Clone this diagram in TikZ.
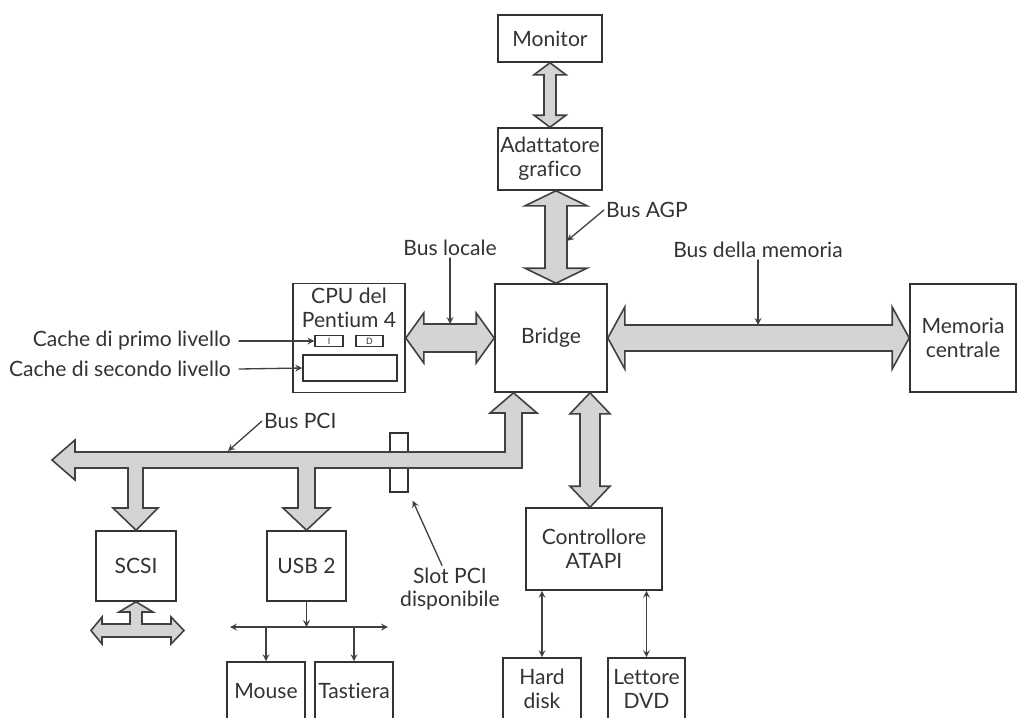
\documentclass[tikz,border=0pt]{standalone}
\usepackage{fontspec}
\setmainfont{Lato}[Ligatures=NoCommon]
\usetikzlibrary{calc,positioning}

\tikzset{
  box/.style 2 args={draw=black!80, line width=0.9pt, minimum width=#1*0.02cm, minimum height=#2*0.02cm, inner sep=0pt, align=center, text=black!80},
  bus/.style={fill=black!17, draw=black!75, line width=0.9pt, line join=miter},
  lbl/.style={text=black!80, align=center, inner sep=1pt},
  ptr/.style={->, draw=black!75, line width=0.75pt},
}
% fat double arrows: (from) (to) shaft-half head-half head-length
\newcommand{\vbus}[5]{\filldraw[bus] (#1) -- ($(#1)+(#4,#5)$) -- ($(#1)+(#3,#5)$) -- ($(#2)+(#3,-#5)$) -- ($(#2)+(#4,-#5)$) -- (#2) -- ($(#2)+(-#4,-#5)$) -- ($(#2)+(-#3,-#5)$) -- ($(#1)+(-#3,#5)$) -- ($(#1)+(-#4,#5)$) -- cycle;}
\newcommand{\hbus}[5]{\filldraw[bus] (#1) -- ($(#1)+(#5,-#4)$) -- ($(#1)+(#5,-#3)$) -- ($(#2)+(-#5,-#3)$) -- ($(#2)+(-#5,-#4)$) -- (#2) -- ($(#2)+(-#5,#4)$) -- ($(#2)+(-#5,#3)$) -- ($(#1)+(#5,#3)$) -- ($(#1)+(#5,#4)$) -- cycle;}

\begin{document}
\begin{tikzpicture}[x=0.02cm, y=-0.02cm, >=stealth, line cap=round, font=\fontsize{12}{13.5}\selectfont]
  \useasboundingbox (0,0) rectangle (1017,717);
  % boxes
  \node[box={104}{47}] (mon) at (550,38.5) {Monitor};
  \node[box={104}{62}] (adapt) at (550,159) {Adattatore\\grafico};
  \node[box={112}{108}] (bridge) at (551,338) {Bridge};
  \node[box={112}{109}] (cpu) at (349,338) {};
  \node[lbl, below=2pt of cpu.north] (cputxt) {CPU del\\Pentium 4};
  \node[box={28}{11}, line width=0.7pt] (l1i) at (329,341) {\tiny I};
  \node[box={27}{11}, line width=0.7pt] (l1d) at (369.5,341) {\tiny D};
  \node[box={94}{26}] (l2) at (350,368) {};
  \node[box={106}{108}] (mem) at (963,338) {Memoria\\centrale};
  \node[box={80}{70}] (scsi) at (136,566) {SCSI};
  \node[box={79}{70}] (usb) at (306.5,566) {USB 2};
  \node[box={78}{58}] (mouse) at (266,691) {Mouse};
  \node[box={78}{58}] (tast) at (354,691) {Tastiera};
  \node[box={136}{82}] (atapi) at (594,549) {Controllore\\ATAPI};
  \node[box={78}{62}] (hd) at (542,689) {Hard\\disk};
  \node[box={77}{62}] (dvd) at (646.5,689) {Lettore\\DVD};
  \node[box={18}{59}, line width=0.8pt] (slot) at (399,462.5) {};

  % buses
  \vbus{mon.south}{adapt.north}{6}{16}{12}
  \coordinate (agpt) at ($(adapt.south)+(6,0)$);
  \coordinate (agpb) at (agpt |- bridge.north);
  \vbus{agpt}{agpb}{11}{31}{15}
  \hbus{cpu.east}{bridge.west}{14}{25}{18}
  \hbus{bridge.east}{mem.west}{13}{31}{17}
  \coordinate (atat) at ($(bridge.south)+(39,0)$);
  \coordinate (atab) at (atat |- atapi.north);
  \vbus{atat}{atab}{10}{20}{21}
  \coordinate (pcitop) at ($(bridge.south)+(-37.5,0)$);
  \coordinate (pcitip) at (52,460);
  \filldraw[bus] (pcitop) -- (537,413) -- (522,413) -- (522,468) -- (315,468) -- (315,508) -- (330,508) -- (usb.north)
    -- (283,508) -- (298,508) -- (298,468) -- (143,468) -- (143,508) -- (158,508) -- (scsi.north)
    -- (113,508) -- (128,508) -- (128,468) -- (75,468) -- (75,480) -- (pcitip)
    -- (75,440) -- (75,452) -- (505,452) -- (505,413) -- (490,413) -- cycle;
  \filldraw[bus] (scsi.south) -- (153,612) -- (142,612) -- (142,624) -- (171,624) -- (171,617) -- (184,630.5)
    -- (171,644) -- (171,637) -- (102,637) -- (102,644) -- (91,630.5) -- (102,617) -- (102,624)
    -- (130,624) -- (130,612) -- (119,612) -- cycle;

  % labels
  \node[lbl, anchor=west] (agp) at (604,210) {Bus AGP};
  \draw[ptr] (agp.west) -- ($(agpt)+(11,50)$);
  \node[lbl] (loc) at (450,248) {Bus locale};
  \coordinate (locm) at ($(cpu.east)!0.5!(bridge.west)$);
  \draw[ptr] (loc) -- ($(locm)+(0,-14)$);
  \node[lbl] (mbus) at (758,250) {Bus della memoria};
  \draw[ptr] (mbus) -- (mbus |- 0,325);
  \node[lbl, anchor=west] (pcitxt) at (262,421) {Bus PCI};
  \draw[ptr] (pcitxt.west) -- (228,451);
  \node[lbl] (slott) at (450,589) {Slot PCI\\disponibile};
  \draw[ptr] ($(slott.north)+(-8,0)$) -- ($(slot.south east)+(4,8)$);
  \node[lbl, anchor=east] (c1) at (233,341) {Cache di primo livello};
  \node[lbl, anchor=east] (c2) at (233,369) {Cache di secondo livello};
  \draw[ptr] ($(c1.east)+(6,0)$) -- (l1i.west);
  \draw[ptr] ($(c2.east)+(6,0)$) -- (l2.west);

  % USB and ATAPI links
  \coordinate (ul) at (230,627);
  \coordinate (ur) at (388,627);
  \draw[ptr, <->] (ul) -- (ur);
  \draw[ptr] (usb.south) -- (usb.south |- ul);
  \draw[ptr] (mouse.north |- ul) -- (mouse.north);
  \draw[ptr] (tast.north |- ul) -- (tast.north);
  \draw[ptr, <->] (hd.north |- atapi.south) -- (hd.north);
  \draw[ptr, <->] (dvd.north |- atapi.south) -- (dvd.north);
\end{tikzpicture}
\end{document}
